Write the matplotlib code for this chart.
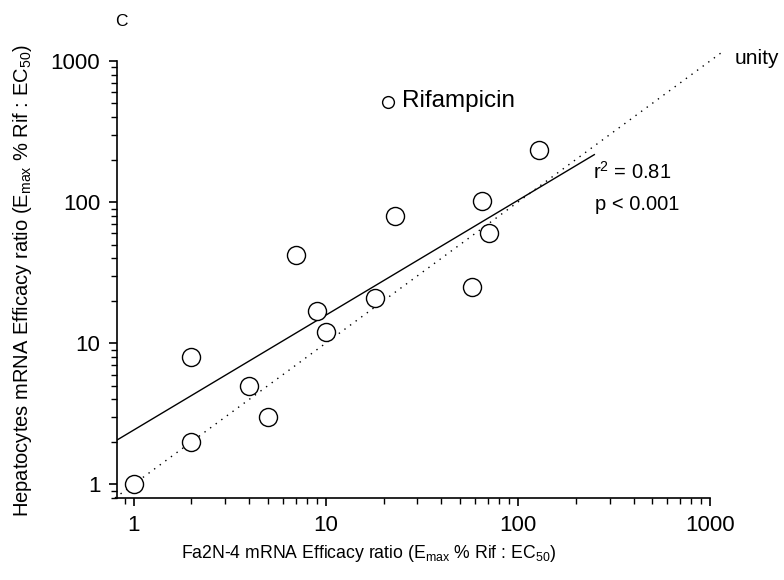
import numpy as np
import matplotlib
matplotlib.use("Agg")
import matplotlib.pyplot as plt

plt.rcParams['font.family'] = ['Liberation Sans', 'DejaVu Sans']
plt.rcParams['mathtext.fontset'] = 'custom'
plt.rcParams['mathtext.rm'] = 'Liberation Sans'
plt.rcParams['mathtext.it'] = 'Liberation Sans'

# efficacy ratios (Fa2N-4 vs hepatocytes)
fa2n4 = [1, 2, 2, 4, 5, 7, 9, 10, 18, 23, 58, 65, 71, 129]
hepatocytes = [1, 2, 8, 5, 3, 42, 17, 12, 21, 80, 25, 102, 60, 234]

# regression line end points and unity line range
fit_x = [0.82, 250]
fit_y = [2.06, 217]
unity = [0.8, 1170]

fig = plt.figure(figsize=(7.84, 5.80), dpi=100)
ax = fig.add_axes([117 / 784, 1 - 498 / 580, (710 - 117) / 784, (498 - 61) / 580])

ax.plot(unity, unity, color='black', lw=1.0, linestyle=(0, (1, 4)), clip_on=False)
ax.plot(fit_x, fit_y, color='black', lw=1.0)
ax.plot(fa2n4, hepatocytes, 'o', ms=13, mfc='white', mec='black', mew=1.0, clip_on=False)

ax.set_xscale('log')
ax.set_yscale('log')
ax.set_xlim(0.82, 1000)
ax.set_ylim(0.8, 1000)
ax.set_xticks([1, 10, 100, 1000])
ax.set_xticklabels(['1', '10', '100', '1000'])
ax.set_yticks([1, 10, 100, 1000])
ax.set_yticklabels(['1', '10', '100', '1000'])

for s in ['top', 'right']:
    ax.spines[s].set_visible(False)
for s in ['left', 'bottom']:
    ax.spines[s].set_linewidth(1.2)
ax.tick_params(which='major', direction='out', length=6, width=1.2, labelsize=16, pad=6)
ax.tick_params(which='minor', direction='out', length=4, width=1.0)

# legend-like label
ax.plot([388 / 784], [1 - 102 / 580], 'o', ms=8.5, mfc='white', mec='black', mew=1.0,
        transform=fig.transFigure, clip_on=False)
fig.text(402 / 784, 1 - 101 / 580, 'Rifampicin', fontsize=17.5, va='center', ha='left')

fig.text(593 / 784, 1 - 172 / 580, 'r$^{2}$ = 0.81', fontsize=14.5, va='center', ha='left')
fig.text(595 / 784, 1 - 204 / 580, 'p < 0.001', fontsize=14.5, va='center', ha='left')
fig.text(735 / 784, 1 - 58 / 580, 'unity', fontsize=15, va='center', ha='left')
fig.text(121 / 784, 1 - 21 / 580, 'C', fontsize=12.5, va='center', ha='center')

fig.text(369 / 784, 1 - 553 / 580,
         r'Fa2N-4 mRNA Efficacy ratio (E$_{\mathregular{max}}$ % Rif : EC$_{\mathregular{50}}$)',
         fontsize=12.7, ha='center', va='center')
fig.text(23 / 784, 1 - 281 / 580,
         r'Hepatocytes mRNA Efficacy ratio (E$_{\mathregular{max}}$ % Rif : EC$_{\mathregular{50}}$)',
         fontsize=14.5, ha='center', va='center', rotation=90)

fig.savefig('out.png', dpi=100)
